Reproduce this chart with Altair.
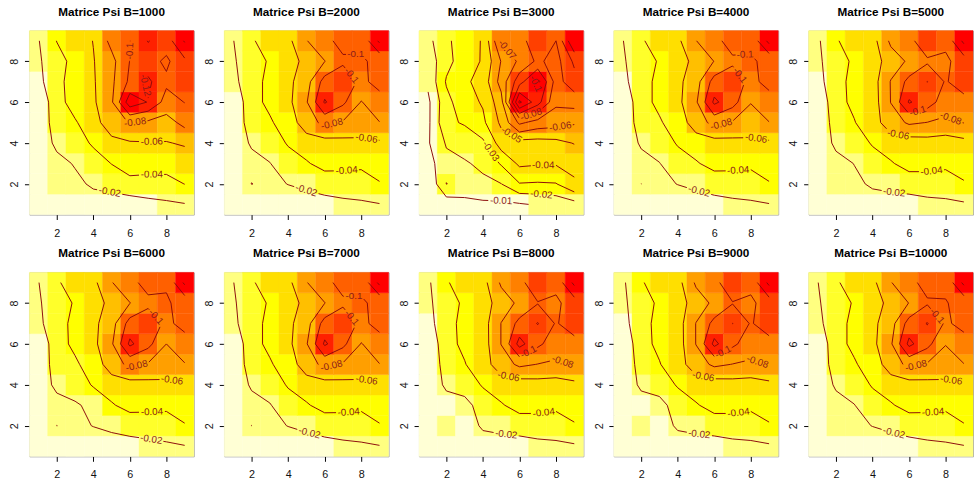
import math
import numpy as np
import pandas as pd
import altair as alt

B_VALUES = [1000, 2000, 3000, 4000, 5000, 6000, 7000, 8000, 9000, 10000]
STEP = [0.02, 0.02, 0.01, 0.02, 0.02, 0.02, 0.02, 0.02, 0.02, 0.02]
HEAT = ["#FF0000", "#FF2000", "#FF4000", "#FF6000", "#FF8000", "#FF9F00",
        "#FFBF00", "#FFDF00", "#FFFF00", "#FFFF2A", "#FFFF80", "#FFFFD5"]

# Psi x 1000, rows from y=9 (top) to y=1, columns x=1..9
PSI_1000 = [
    [-19, -40.4, -50, -60.5, -86, -99.5, -121, -110, -142],
    [-17, -34, -45, -59, -74, -100.5, -108, -96, -116],
    [-14, -36, -46, -58, -76, -104, -124, -104, -112],
    [-4, -33, -48, -57, -77, -132, -119, -92, -100.5],
    [-10, -27, -38, -52, -72, -81, -76, -72, -86],
    [-11, -23, -30, -43, -54, -58, -59, -59, -62],
    [-8, -16, -21, -30, -40.5, -46, -47, -48, -50],
    [-6, -16, -17, -22, -27, -36, -34, -33, -40.3],
    [-3, -6, -10, -14, -10, -8, -14, -17, -19],
]
PSI_2000 = [
    [-19.5, -37, -52, -55, -79, -95, -106, -104, -144],
    [-18, -30, -42.5, -54, -64, -79.5, -97, -98, -104],
    [-14, -34, -44, -55, -72, -108, -112, -95.6, -106.6],
    [-3, -34, -44, -55, -78, -122, -104, -79, -92],
    [-5.6, -30, -37.75, -49, -71, -85, -78, -74, -79.5],
    [-10, -22, -28, -42, -50, -52, -54, -55, -57],
    [-7, -15, -19.5, -30, -38, -47, -45, -43, -47],
    [-6, -20.3, -16, -20.4, -24, -28, -31, -33, -39],
    [-2, -5, -8, -10, -11.5, -13.5, -15.3, -16.75, -19.2],
]
PSI_3000 = [
    [-17, -28.5, -34, -41, -71, -74, -90, -80, -110],
    [-14, -27, -35, -41, -60.5, -72, -82, -76, -92],
    [-12, -31, -38, -44, -64, -86, -103, -76, -86],
    [-8, -27, -36, -41, -56, -112, -94, -72, -74],
    [-8, -28, -31, -38, -52, -72, -66, -64, -61],
    [-9, -21, -24, -28, -45, -46, -46, -47, -50.5],
    [-6, -17, -19, -22, -31, -42, -41, -41, -42],
    [-1.3, -20.2, -16, -18, -19.8, -29.5, -29, -29.5, -39],
    [-3, -4.2, -7, -8, -8, -9, -11, -13, -16],
]
PSI_4000 = [
    [-19.5, -37, -52, -56, -79.5, -95, -107, -104, -146],
    [-18, -30, -42, -54, -64, -80.5, -97, -98, -104],
    [-14, -34, -44, -55, -72, -108, -110, -95, -106],
    [-3, -34, -44, -55, -77, -124, -108, -80.5, -92],
    [-5, -30, -38, -49, -70, -86, -78, -74, -79.5],
    [-10, -22, -28, -42, -50, -52, -54, -55, -57],
    [-7, -15, -19.5, -30, -38, -47, -45, -43, -47],
    [-6, -20.05, -16, -20.4, -24, -28, -31, -33, -39],
    [-2, -5, -8, -10, -11.5, -13.5, -15.3, -16.75, -19.2],
]
PSI_5000 = [
    [-17, -38, -50, -52.4, -84, -94, -114, -105, -145],
    [-16.7, -30, -44, -50, -70, -83, -97, -96, -110],
    [-12.5, -34, -45, -51, -81, -106, -120.3, -98, -112],
    [-2.9, -34, -44, -49.9, -80.5, -122, -109, -90, -92],
    [-2, -30, -39, -52, -70, -83, -79.5, -76, -80.5],
    [-9, -23.3, -29, -42, -50.8, -50, -52, -50, -54],
    [-7, -15, -20.3, -30, -38, -48, -46, -43, -47],
    [-5, -18, -17, -22, -25, -28, -31, -33, -38.5],
    [-3, -5, -9, -13.7, -12.5, -12, -14, -14.9, -17.5],
]
PSI_6000 = [
    [-19.5, -37, -51, -55, -79, -95, -106, -102, -144],
    [-18, -30, -42, -54, -64, -79.5, -96, -98, -106],
    [-15, -34, -44, -55, -72, -108, -111, -96, -106],
    [-3, -33, -44, -55, -77, -124, -106, -80, -92],
    [-5, -30, -37, -49, -70, -85, -78, -74, -79],
    [-10, -24, -28, -42, -50, -52, -54, -55, -57],
    [-7, -14, -18, -24, -38, -47, -45, -43, -47],
    [-6, -20.1, -16, -20.5, -24, -27, -30, -33, -39],
    [-2, -5, -8, -10, -12, -13.5, -14.5, -16.5, -19.2],
]
PSI_7000 = [
    [-19.5, -37, -52, -55, -79, -95, -106, -104, -145],
    [-18, -30, -42.5, -54, -64, -79.5, -97, -98, -104],
    [-15, -34, -44, -55, -72, -108, -112, -95.6, -106],
    [-3, -34, -44, -55, -78, -123, -105, -79, -92],
    [-5, -30, -38, -49, -71, -85, -78, -74, -79.5],
    [-10, -22, -28, -42, -50, -52, -54, -55, -57],
    [-7, -15, -19, -30, -38, -47, -45, -43, -47],
    [-6, -20.08, -16, -20.4, -24, -28, -31, -33, -39],
    [-2, -5, -8, -10, -11.5, -13.5, -15.3, -16.75, -19.2],
]
PSI_8000 = [
    [-17, -38, -50, -53, -83, -94, -114, -106, -145],
    [-16.7, -30, -44, -50, -70, -84, -99, -96, -110],
    [-12.5, -34, -45, -51, -80.5, -106, -121, -98, -112],
    [-3, -34, -44, -50.5, -80.5, -127, -104, -90, -92],
    [-2, -30, -39, -52, -70, -84, -79.5, -77, -81],
    [-9, -23, -28, -42, -51, -50, -52, -51, -55],
    [-7, -13, -14, -28, -38, -48, -46, -43, -47],
    [-5, -16, -13, -22, -25, -28, -31, -33, -38.5],
    [-3, -5, -9, -13.5, -12.5, -12, -14, -15, -17.5],
]
PSI_9000 = [
    [-17, -38, -50, -53, -83, -94, -114, -106, -145],
    [-16.7, -30, -44, -50, -70, -84, -99, -96, -110],
    [-12.5, -34, -45, -51, -80.5, -106, -120.3, -98, -112],
    [-3, -34, -44, -50.5, -80.5, -125, -104, -90, -92],
    [-2, -30, -39, -52, -70, -84, -79.5, -77, -81],
    [-9, -23, -28, -42, -51, -50, -52, -51, -55],
    [-7, -13, -14, -28, -38, -48, -46, -43, -47],
    [-5, -16, -13.5, -22, -25, -28, -31, -33, -38.5],
    [-3, -5, -9, -13.5, -12.5, -12, -14, -15, -17.5],
]
PSI_10000 = [
    [-19.5, -37, -51, -55, -79, -95, -106, -104, -145],
    [-18, -30, -42, -54, -64, -80.5, -98, -99, -106],
    [-14, -34, -44, -55, -72, -108, -121, -97, -106],
    [-3, -34, -44, -55, -77, -125, -106, -80.5, -92],
    [-5, -30, -38, -49, -70, -85, -78, -74, -79.5],
    [-10, -22, -28, -42, -50, -52, -54, -55, -57],
    [-7, -15, -19.5, -30, -38, -47, -45, -43, -47],
    [-6, -18, -16, -20.4, -24, -28, -31, -33, -39],
    [-2, -5, -8, -10, -11.5, -13.5, -15.3, -16.75, -19.2],
]
PSI = [PSI_1000, PSI_2000, PSI_3000, PSI_4000, PSI_5000,
       PSI_6000, PSI_7000, PSI_8000, PSI_9000, PSI_10000]

# contour labels: (text, approx x, approx y)
LABELS = [
    [("-0.1", 6.0, 8.5), ("-0.12", 6.75, 6.8), ("-0.08", 6.3, 4.96),
     ("-0.06", 7.2, 4.08), ("-0.04", 7.2, 2.55), ("-0.02", 4.9, 1.6)],
    [("-0.1", 7.7, 8.1), ("-0.1", 7.2, 7.1), ("-0.08", 6.3, 5.3),
     ("-0.06", 8.3, 4.3), ("-0.04", 7.2, 2.7), ("-0.02", 5.0, 1.7)],
    [("-0.07", 5.1, 8.4), ("-0.1", 6.9, 6.9), ("-0.08", 6.6, 5.5),
     ("-0.05", 5.5, 4.3), ("-0.06", 8.3, 4.45), ("-0.03", 4.1, 3.4),
     ("-0.04", 7.3, 2.85), ("-0.02", 7.2, 1.5), ("-0.01", 5.0, 1.25)],
    [("-0.1", 7.7, 8.1), ("-0.1", 7.1, 7.1), ("-0.08", 6.3, 5.2),
     ("-0.06", 8.3, 4.3), ("-0.04", 7.3, 2.8), ("-0.02", 5.2, 1.75)],
    [("-0.1", 6.4, 5.8), ("-0.08", 8.2, 5.0), ("-0.06", 5.4, 4.4),
     ("-0.04", 7.2, 2.8), ("-0.02", 5.2, 1.7)],
    [("-0.1", 7.1, 7.05), ("-0.08", 6.3, 5.2), ("-0.06", 8.3, 4.2),
     ("-0.04", 7.2, 2.85), ("-0.02", 7.2, 1.5)],
    [("-0.1", 7.6, 8.1), ("-0.1", 7.1, 7.0), ("-0.08", 6.3, 5.2),
     ("-0.06", 8.3, 4.25), ("-0.04", 7.3, 2.85), ("-0.02", 5.2, 1.75)],
    [("-0.1", 6.4, 5.75), ("-0.08", 8.3, 4.95), ("-0.06", 5.4, 4.4),
     ("-0.04", 7.3, 2.85), ("-0.02", 5.3, 1.75)],
    [("-0.1", 6.4, 5.75), ("-0.08", 8.3, 4.95), ("-0.06", 5.4, 4.4),
     ("-0.04", 7.3, 2.85), ("-0.02", 5.2, 1.75)],
    [("-0.1", 7.7, 7.5), ("-0.08", 6.3, 5.25), ("-0.06", 8.3, 4.2),
     ("-0.04", 7.3, 2.8), ("-0.02", 5.2, 1.75)],
]

W, H = 168, 188
SX, SY = W / 9.0, H / 9.0
LINE_COLOR = "#8B0A0A"
LABEL_COLOR = "#8B1A1A"
FONT = "Liberation Sans"


def contour_segments(Z, level):
    ny, nx = Z.shape
    segs = []
    for j in range(ny - 1):
        for i in range(nx - 1):
            v = [Z[j, i], Z[j, i + 1], Z[j + 1, i + 1], Z[j + 1, i]]
            p = [(i + 1, j + 1), (i + 2, j + 1), (i + 2, j + 2), (i + 1, j + 2)]
            up = [val >= level for val in v]
            cross = {}
            for e in range(4):
                a, b = e, (e + 1) % 4
                if up[a] != up[b]:
                    t = (level - v[a]) / (v[b] - v[a])
                    cross[e] = (p[a][0] + t * (p[b][0] - p[a][0]),
                                p[a][1] + t * (p[b][1] - p[a][1]))
            if len(cross) == 2:
                (x1, y1), (x2, y2) = list(cross.values())
                segs.append((x1, y1, x2, y2))
            elif len(cross) == 4:
                center = sum(v) / 4.0
                if (center >= level) == up[0]:
                    pairs = [(0, 1), (2, 3)]
                else:
                    pairs = [(3, 0), (1, 2)]
                for a, b in pairs:
                    segs.append((cross[a][0], cross[a][1], cross[b][0], cross[b][1]))
    return segs


def text_width(s, size=10):
    w = 0
    for c in s:
        w += 0.556 * size if c.isdigit() else (0.278 * size if c == "." else 0.333 * size)
    return w


def build_panel(idx):
    rows = PSI[idx]
    Z = np.array(rows[::-1], dtype=float) / 1000.0  # Z[j, i] -> x=i+1, y=j+1
    zmin, zmax = Z.min(), Z.max()
    step = STEP[idx]

    # heat map cells
    cells = []
    for j in range(9):
        for i in range(9):
            k = int(math.floor((Z[j, i] - zmin) / (zmax - zmin) * 12))
            k = min(max(k, 0), 11)
            cells.append({"xa": i + 0.5, "xb": i + 1.5, "ya": j + 0.5, "yb": j + 1.5, "k": k})
    df_cells = pd.DataFrame(cells)

    # contour levels (pretty-style, multiples of step)
    levels = []
    kk = math.ceil(zmin / step - 1e-9)
    while kk * step < zmax:
        lev = round(kk * step, 4)
        if lev > zmin:
            levels.append(lev)
        kk += 1
    segs_by_level = {lev: contour_segments(Z, lev) for lev in levels}

    # labels: snap to nearest segment of their level, align with the line
    lab_rows = []
    boxes = {}
    for text, lx, ly in LABELS[idx]:
        lev = round(float(text), 4)
        segs = segs_by_level.get(lev, [])
        best = None
        px, py = lx * SX, -ly * SY
        for (x1, y1, x2, y2) in segs:
            ax, ay, bx, by = x1 * SX, -y1 * SY, x2 * SX, -y2 * SY
            dx, dy = bx - ax, by - ay
            L2 = dx * dx + dy * dy
            t = 0.0 if L2 == 0 else max(0.0, min(1.0, ((px - ax) * dx + (py - ay) * dy) / L2))
            qx, qy = ax + t * dx, ay + t * dy
            d = (qx - px) ** 2 + (qy - py) ** 2
            if best is None or d < best[0]:
                best = (d, qx, qy, dx, dy)
        if best is None:
            continue
        _, qx, qy, dx, dy = best
        ang = math.degrees(math.atan2(dy, dx))
        if ang > 90:
            ang -= 180
        if ang <= -90:
            ang += 180
        hw = text_width(text) / 2 + 1.5
        boxes.setdefault(lev, []).append((qx, qy, math.radians(ang), hw, 4.5))
        lab_rows.append({"x": qx / SX, "y": -qy / SY, "t": text, "ang": ang % 360})
    df_lab = pd.DataFrame(lab_rows)

    # contour line pieces, leaving gaps where labels sit
    rules = []
    N = 24
    for lev, segs in segs_by_level.items():
        bx_list = boxes.get(lev, [])
        for (x1, y1, x2, y2) in segs:
            keep = []
            for n in range(N):
                tm = (n + 0.5) / N
                mx, my = (x1 + tm * (x2 - x1)) * SX, -(y1 + tm * (y2 - y1)) * SY
                inside = False
                for (cx, cy, a, hw, hh) in bx_list:
                    ddx, ddy = mx - cx, my - cy
                    u = ddx * math.cos(a) + ddy * math.sin(a)
                    w = -ddx * math.sin(a) + ddy * math.cos(a)
                    if abs(u) < hw and abs(w) < hh:
                        inside = True
                        break
                keep.append(not inside)
            n = 0
            while n < N:
                if keep[n]:
                    m = n
                    while m < N and keep[m]:
                        m += 1
                    t0, t1 = n / N, m / N
                    rules.append({"xa": x1 + t0 * (x2 - x1), "ya": y1 + t0 * (y2 - y1),
                                  "xb": x1 + t1 * (x2 - x1), "yb": y1 + t1 * (y2 - y1)})
                    n = m
                else:
                    n += 1
    df_rules = pd.DataFrame(rules)

    xs = alt.Scale(domain=[0.5, 9.5], nice=False, zero=False)
    ys = alt.Scale(domain=[0.5, 9.5], nice=False, zero=False)
    xaxis = alt.Axis(values=[2, 4, 6, 8], title=None, grid=False, domain=False,
                     tickSize=5, tickColor="#000000", labelFontSize=11, labelFont=FONT,
                     labelColor="#111111", labelPadding=8, format="d")
    yaxis = alt.Axis(values=[2, 4, 6, 8], title=None, grid=False, domain=False,
                     tickSize=5, tickColor="#000000", labelFontSize=11, labelFont=FONT,
                     labelColor="#111111", labelPadding=5, labelAngle=270,
                     labelAlign="center", labelBaseline="bottom", format="d")

    rect = alt.Chart(df_cells).mark_rect(strokeWidth=0.4).encode(
        x=alt.X("xa:Q", scale=xs, axis=xaxis), x2="xb:Q",
        y=alt.Y("ya:Q", scale=ys, axis=yaxis), y2="yb:Q",
        color=alt.Color("k:O", scale=alt.Scale(domain=list(range(12)), range=HEAT), legend=None),
        stroke=alt.Stroke("k:O", scale=alt.Scale(domain=list(range(12)), range=HEAT), legend=None),
    )
    lines = alt.Chart(df_rules).mark_rule(color=LINE_COLOR, strokeWidth=1).encode(
        x=alt.X("xa:Q", scale=xs, axis=xaxis), x2="xb:Q",
        y=alt.Y("ya:Q", scale=ys, axis=yaxis), y2="yb:Q",
    )
    texts = alt.Chart(df_lab).mark_text(fontSize=10, font=FONT, color=LABEL_COLOR,
                                        align="center", baseline="middle").encode(
        x=alt.X("x:Q", scale=xs, axis=xaxis),
        y=alt.Y("y:Q", scale=ys, axis=yaxis),
        text="t:N",
        angle=alt.Angle("ang:Q", scale=None),
    )
    return alt.layer(rect, lines, texts).properties(
        width=W, height=H,
        title=alt.TitleParams(text=f"Matrice Psi B={B_VALUES[idx]}", fontSize=12,
                              fontWeight="bold", font=FONT, offset=12, anchor="middle",
                              color="#000000"),
    )


panels = [build_panel(i) for i in range(10)]
row1 = alt.hconcat(*panels[:5], spacing=8)
row2 = alt.hconcat(*panels[5:], spacing=8)
chart = alt.vconcat(row1, row2, spacing=8).properties(
    padding={"left": 8, "top": 0, "right": 0, "bottom": 0},
    background="#FFFFFF",
).configure_view(stroke="#A8A8A8", strokeWidth=1)

chart.save("out.html", embed_options={"renderer": "svg", "actions": False})
